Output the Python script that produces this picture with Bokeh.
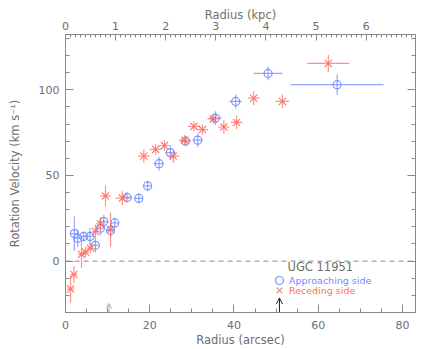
import numpy as np
from bokeh.plotting import figure
from bokeh.models import (Range1d, LinearAxis, Span, Arrow, OpenHead, Legend,
                          LegendItem, SingleIntervalTicker, ColumnDataSource, Label)
from bokeh.embed import file_html
from bokeh.resources import INLINE

# ---- data ----
app_r = [2.1, 2.9, 4.3, 5.8, 7.1, 8.3, 9.1, 10.7, 11.7, 14.6, 17.4, 19.5, 22.2,
         24.9, 28.5, 31.4, 35.6, 40.4, 48.1, 64.5]
app_v = [16.1, 13.4, 14.4, 14.4, 9.2, 19.2, 23.1, 17.9, 22.3, 37.2, 36.6, 43.9,
         56.9, 63.3, 70.0, 70.6, 83.5, 93.2, 109.6, 103.0]
app_verr = [10, 5, 3, 5, 4, 4, 4, 4, 3, 3, 3, 3, 4, 4, 3, 4, 4, 4, 4, 6]
app_rerr = [0.8, 0.8, 0.8, 0.8, 0.8, 1.0, 1.0, 1.0, 1.0, 1.2, 1.0, 1.0, 1.2,
            1.2, 1.2, 1.2, 1.5, 1.5, 3.4, 11.0]

rec_r = [1.2, 2.0, 3.8, 4.75, 5.9, 7.1, 8.3, 10.7, 9.5, 13.5, 18.6, 21.4, 23.5,
         25.6, 28.3, 30.5, 32.5, 35.1, 37.6, 40.6, 44.7, 51.5, 62.4]
rec_v = [-16.3, -7.8, 3.9, 5.3, 7.6, 17.3, 21.7, 18.4, 38.1, 36.8, 61.3, 65.2,
         67.5, 61.3, 70.6, 78.7, 76.8, 83.0, 78.3, 81.0, 95.1, 93.2, 115.4]
rec_verr = [8, 5, 8, 3, 3, 4, 4, 10, 6, 4, 4, 3, 3, 4, 3, 3, 3, 3, 4, 4, 4, 4, 5]
rec_rerr = [0.8, 0.8, 0.8, 0.8, 0.8, 0.8, 1.0, 1.0, 1.2, 1.6, 1.4, 1.4, 1.4,
            1.4, 1.4, 1.4, 1.4, 1.4, 1.4, 1.4, 1.4, 1.6, 5.0]

arcsec_per_kpc = 11.9
x_range = (0, 83.1)
y_range = (-30, 132.3)
x_ticks_major = 20
y_ticks_major = 50
kpc_tick = 1

arrow_r = [10.3, 50.8]
arrow_top = [-24.8, -21.5]

title_text = "UGC 11951"
app_label = "Approaching side"
rec_label = "Receding side"

BLUE = "#6f8bff"
RED = "#ff6e62"
GRAY = "#6e6e6e"
FONT = "DejaVu Sans"

p = figure(width=436, height=349, output_backend="svg", toolbar_location=None,
           x_range=Range1d(*x_range), y_range=Range1d(*y_range),
           min_border_left=65, min_border_right=21, min_border_top=34,
           min_border_bottom=35, x_axis_location="below")
p.extra_x_ranges = {"kpc": Range1d(x_range[0] / arcsec_per_kpc, x_range[1] / arcsec_per_kpc)}
p.xgrid.visible = False
p.ygrid.visible = False
p.outline_line_color = "#888888"
p.background_fill_color = "white"
p.border_fill_color = "white"


def style_axis(ax, minor_in=4, major_in=8):
    ax.axis_line_color = "#888888"
    ax.major_tick_line_color = "#888888"
    ax.minor_tick_line_color = "#888888"
    ax.major_tick_out = 0
    ax.major_tick_in = major_in
    ax.minor_tick_out = 0
    ax.minor_tick_in = minor_in
    ax.major_label_text_font = FONT
    ax.major_label_text_font_size = "11px"
    ax.major_label_text_color = GRAY
    ax.axis_label_text_font = FONT
    ax.axis_label_text_font_size = "11.5px"
    ax.axis_label_text_font_style = "normal"
    ax.axis_label_text_color = GRAY


xa = p.xaxis[0]
xa.ticker = SingleIntervalTicker(interval=x_ticks_major, num_minor_ticks=4)
xa.axis_label = "Radius (arcsec)"
style_axis(xa)
xa.major_label_standoff = 8
xa.axis_label_standoff = 1

ya = p.yaxis[0]
ya.ticker = SingleIntervalTicker(interval=y_ticks_major, num_minor_ticks=5)
ya.axis_label = "Rotation Velocity (km s\u207b\u00b9)"
style_axis(ya)
ya.major_label_standoff = 6
ya.axis_label_standoff = 14

top = LinearAxis(x_range_name="kpc", axis_label="Radius (kpc)",
                 ticker=SingleIntervalTicker(interval=kpc_tick, num_minor_ticks=10))
style_axis(top, minor_in=3, major_in=6)
top.major_label_standoff = 5
top.axis_label_standoff = -3
p.add_layout(top, "above")

right = LinearAxis(ticker=SingleIntervalTicker(interval=y_ticks_major, num_minor_ticks=5))
style_axis(right)
right.major_label_overrides = {v: "" for v in range(-50, 151, 50)}
right.major_label_text_font_size = "1px"
right.major_label_standoff = 0
p.add_layout(right, "right")

# zero line
p.add_layout(Span(location=0, dimension="width", line_color="#8c8c8c",
                  line_dash="5 4", line_width=1))

# error bars and markers
def series(r, v, verr, rerr, color, marker, size):
    r = np.array(r); v = np.array(v); verr = np.array(verr); rerr = np.array(rerr)
    src = ColumnDataSource(dict(r=r, v=v, vlo=v - verr, vhi=v + verr,
                                rlo=r - rerr, rhi=r + rerr))
    p.segment(x0="r", y0="vlo", x1="r", y1="vhi", source=src,
              line_color=color, line_alpha=0.75, line_width=1.2)
    p.segment(x0="rlo", y0="v", x1="rhi", y1="v", source=src,
              line_color=color, line_alpha=0.75, line_width=1.2)
    return p.scatter(x="r", y="v", source=src, marker=marker, size=size,
                     line_color=color, fill_color=None, line_width=1.2,
                     line_alpha=0.9)

r_app = series(app_r, app_v, app_verr, app_rerr, BLUE, "circle", 8)
r_rec = series(rec_r, rec_v, rec_verr, rec_rerr, RED, "x", 10)

# arrows at the bottom
p.add_layout(Arrow(end=OpenHead(size=5, line_color="#aaaaaa", line_width=1),
                   x_start=arrow_r[0], y_start=y_range[0], x_end=arrow_r[0],
                   y_end=arrow_top[0], line_color="#aaaaaa", line_width=1))
p.add_layout(Arrow(end=OpenHead(size=6, line_color="#222222", line_width=1),
                   x_start=arrow_r[1], y_start=y_range[0], x_end=arrow_r[1],
                   y_end=arrow_top[1], line_color="#222222", line_width=1))

# legend: title label + two one-item legends (each with its own text colour)
p.add_layout(Label(x=222, y=46, x_units="screen", y_units="screen",
                   text=title_text, text_font=FONT, text_font_size="11.5px",
                   text_color=GRAY, text_baseline="middle"))
common = dict(label_text_font=FONT, label_text_font_size="9.5px",
              glyph_width=20, glyph_height=20, label_height=20,
              label_standoff=-2, padding=0, margin=0, spacing=0,
              background_fill_alpha=0, border_line_alpha=0)
leg1 = Legend(items=[LegendItem(label=app_label, renderers=[r_app])],
              location=(204, 22), label_text_color=BLUE, **common)
leg2 = Legend(items=[LegendItem(label=rec_label, renderers=[r_rec])],
              location=(204, 12), label_text_color=RED, **common)
p.add_layout(leg1, "center")
p.add_layout(leg2, "center")

open("out.html", "w").write(file_html(p, INLINE))
